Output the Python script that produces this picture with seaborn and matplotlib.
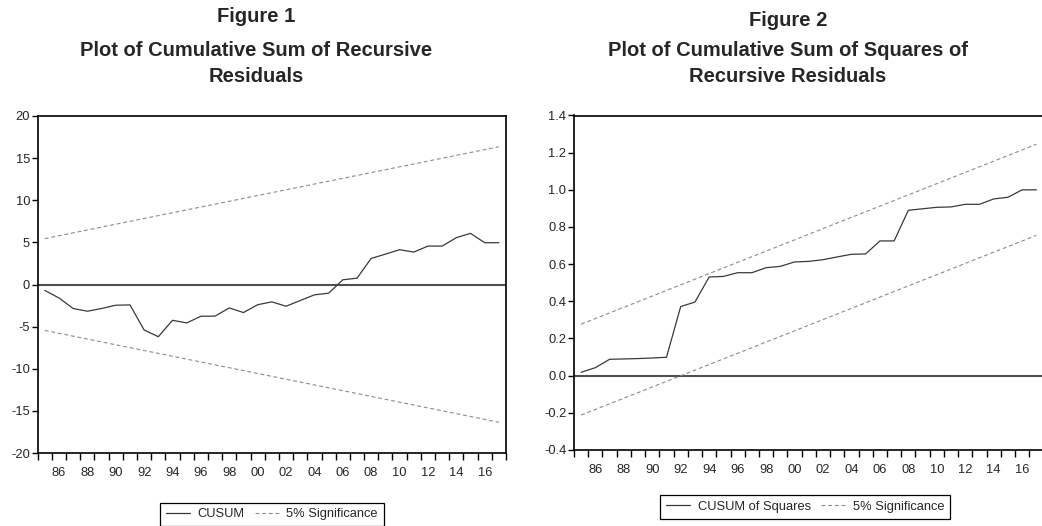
import numpy as np
import pandas as pd
import matplotlib
matplotlib.use("Agg")
import matplotlib.pyplot as plt
import seaborn as sns
from matplotlib.ticker import FixedLocator, FixedFormatter, NullFormatter

# === Data ===
years = list(range(1985, 2018))

cusum = [-0.7, -1.6, -2.85, -3.17, -2.85, -2.46, -2.42, -5.4, -6.2, -4.25,
         -4.56, -3.77, -3.75, -2.78, -3.33, -2.4, -2.06, -2.58, -1.9, -1.23,
         -1.03, 0.56, 0.75, 3.1, 3.6, 4.13, 3.85, 4.56, 4.56, 5.56,
         6.07, 4.96, 4.96]

cusumsq = [0.018, 0.043, 0.088, 0.09, 0.092, 0.095, 0.099, 0.372, 0.396, 0.531,
           0.534, 0.554, 0.554, 0.581, 0.588, 0.612, 0.615, 0.624, 0.639, 0.653,
           0.655, 0.725, 0.725, 0.89, 0.898, 0.906, 0.908, 0.922, 0.922, 0.951,
           0.96, 1.0, 1.0]

# 5% significance bands (straight lines, end points only)
band_years = [1985, 2017]
cusum_upper = [5.45, 16.35]
cusum_lower = [-5.45, -16.35]
sq_upper = [0.277, 1.245]
sq_lower = [-0.212, 0.755]

year_labels = [1986, 1988, 1990, 1992, 1994, 1996, 1998, 2000, 2002,
               2004, 2006, 2008, 2010, 2012, 2014, 2016]
cusum_yticks = [-20, -15, -10, -5, 0, 5, 10, 15, 20]
sq_yticks = [-0.4, -0.2, 0.0, 0.2, 0.4, 0.6, 0.8, 1.0, 1.2, 1.4]

df1 = pd.DataFrame({"year": years, "value": cusum})
df2 = pd.DataFrame({"year": years, "value": cusumsq})
b1 = pd.DataFrame({"year": band_years, "up": cusum_upper, "lo": cusum_lower})
b2 = pd.DataFrame({"year": band_years, "up": sq_upper, "lo": sq_lower})

# === Style ===
sns.set_style("white")
plt.rcParams["font.family"] = ["Liberation Sans", "DejaVu Sans"]
plt.rcParams["axes.unicode_minus"] = False

W, H = 1042, 526
fig = plt.figure(figsize=(W / 100, H / 100), dpi=100)

line_col = "#3a3a3a"
band_col = "#8c8c8c"
dash = (0, (3.5, 2.5))


def px_rect(x0, y0, x1, y1):
    return [x0 / W, 1 - y1 / H, (x1 - x0) / W, (y1 - y0) / H]


def style_axes(ax, yticks, fmt):
    ax.set_xlim(1984.5, 2017.5)
    ax.set_ylim(yticks[0], yticks[-1])
    # ticks on year boundaries, labels centred on even years
    ax.xaxis.set_major_locator(FixedLocator(np.arange(1984.5, 2018, 1.0)))
    ax.xaxis.set_major_formatter(NullFormatter())
    ax.xaxis.set_minor_locator(FixedLocator(year_labels))
    ax.xaxis.set_minor_formatter(FixedFormatter(["%02d" % (y % 100) for y in year_labels]))
    ax.tick_params(axis="x", which="major", direction="out", length=5, width=1, color="black")
    ax.tick_params(axis="x", which="minor", length=0, pad=10, labelsize=9.3)
    ax.set_yticks(yticks)
    ax.set_yticklabels([fmt % v for v in yticks])
    ax.tick_params(axis="y", direction="out", length=4.5, width=1, pad=1, labelsize=9.3,
                   left=True, color="black")
    ax.tick_params(axis="x", bottom=True)
    for s in ax.spines.values():
        s.set_visible(True)
        s.set_color("black")
        s.set_linewidth(1.2)
    ax.set_xlabel("")
    ax.set_ylabel("")
    ax.axhline(0, color="#505050", lw=1.5, zorder=1)


# === Figure 1: CUSUM ===
ax1 = fig.add_axes(px_rect(37.7, 116, 506, 453))
sns.lineplot(data=df1, x="year", y="value", ax=ax1, color=line_col, lw=0.9, label="CUSUM")
sns.lineplot(data=b1, x="year", y="up", ax=ax1, color=band_col, lw=0.8,
             linestyle=dash, label="5% Significance")
sns.lineplot(data=b1, x="year", y="lo", ax=ax1, color=band_col, lw=0.8,
             linestyle=dash, label="_nolegend_")
style_axes(ax1, cusum_yticks, "%d")
h1, l1 = ax1.get_legend_handles_labels()
ax1.get_legend().remove()

# === Figure 2: CUSUM of squares (right border falls just outside the image) ===
ax2 = fig.add_axes(px_rect(574, 115.5, 1043.5, 450))
sns.lineplot(data=df2, x="year", y="value", ax=ax2, color=line_col, lw=0.9, label="CUSUM of Squares")
sns.lineplot(data=b2, x="year", y="up", ax=ax2, color=band_col, lw=0.8,
             linestyle=dash, label="5% Significance")
sns.lineplot(data=b2, x="year", y="lo", ax=ax2, color=band_col, lw=0.8,
             linestyle=dash, label="_nolegend_")
style_axes(ax2, sq_yticks, "%.1f")
h2, l2 = ax2.get_legend_handles_labels()
ax2.get_legend().remove()

# === Legends below each plot ===
leg_kw = dict(ncol=2, frameon=True, fancybox=False, framealpha=1, fontsize=9.3,
              handlelength=1.9, handletextpad=0.55, columnspacing=0.8,
              borderpad=0.45, borderaxespad=0, loc="upper center")
lg1 = fig.legend(h1, l1, bbox_to_anchor=(271.7 / W, 1 - 502.5 / H), **leg_kw)
lg2 = fig.legend(h2, l2, bbox_to_anchor=(805 / W, 1 - 495 / H), **leg_kw)
for lg in (lg1, lg2):
    lg.get_frame().set_edgecolor("black")
    lg.get_frame().set_linewidth(0.9)

# === Titles ===
tkw = dict(ha="center", va="baseline", fontsize=14.5, fontweight="bold")
fig.text(256 / W, 1 - 22 / H, "Figure 1", **tkw)
fig.text(256 / W, 1 - 56 / H, "Plot of Cumulative Sum of Recursive", **tkw)
fig.text(256 / W, 1 - 82 / H, "Residuals", **tkw)
fig.text(788 / W, 1 - 26 / H, "Figure 2", **tkw)
fig.text(788 / W, 1 - 56 / H, "Plot of Cumulative Sum of Squares of", **tkw)
fig.text(788 / W, 1 - 82 / H, "Recursive Residuals", **tkw)

fig.savefig("out.png", dpi=100, facecolor="white")
